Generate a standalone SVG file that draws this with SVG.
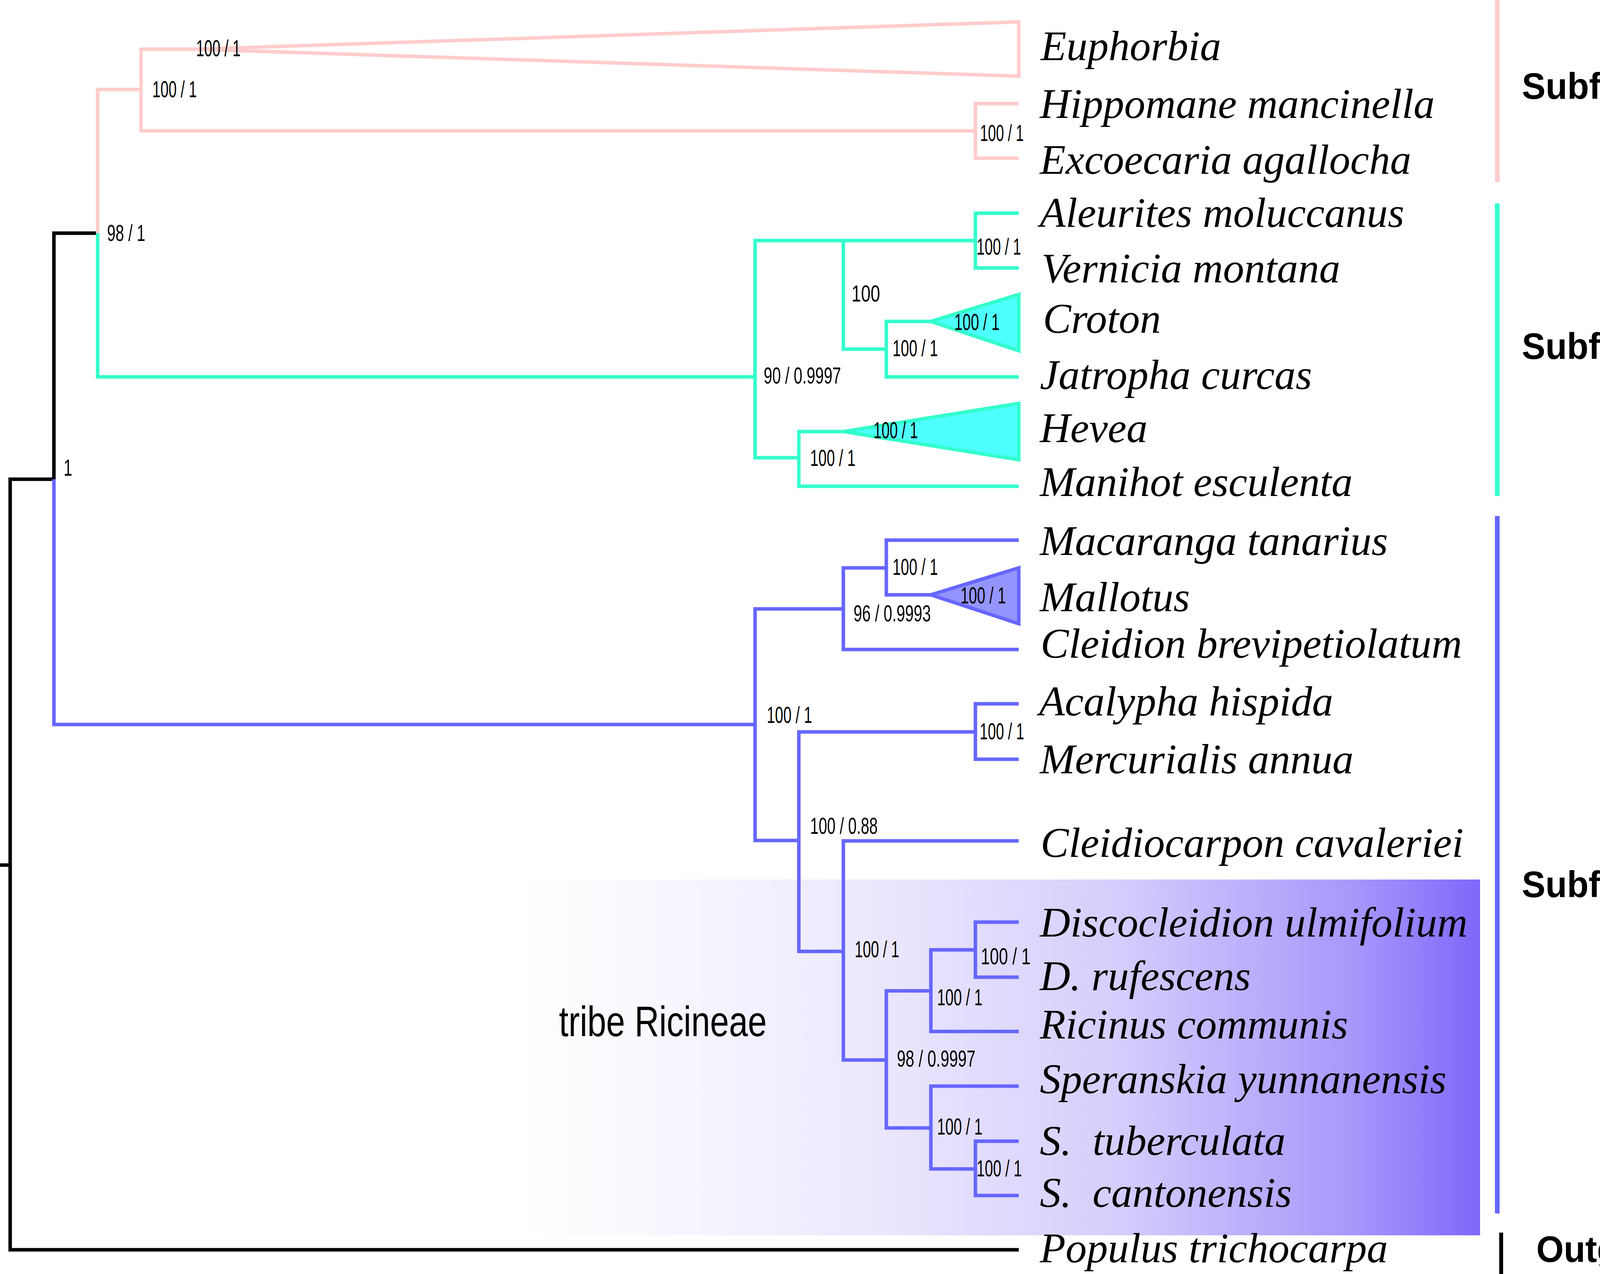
<svg xmlns="http://www.w3.org/2000/svg" width="4961" height="3262" viewBox="0 0 4961 3262">
<style>
.ln{fill:none;stroke-width:9;stroke-linejoin:miter;stroke-linecap:butt}
.k{stroke:#000}
.p{stroke:#ffcccc}
.t{stroke:#33ffcc}
.b{stroke:#6666ff}
.tx{font-family:"Liberation Serif","Times New Roman",serif;font-style:italic;font-size:108px;fill:#000}
.bs{font-family:"Liberation Sans",Arial,sans-serif;font-size:60px;fill:#000}
.sf{font-family:"Liberation Sans",Arial,sans-serif;font-weight:bold;font-size:94px;fill:#000}
.tr{font-family:"Liberation Sans",Arial,sans-serif;font-size:110px;fill:#000}
</style>
<defs>
<linearGradient id="ric" x1="0" y1="0" x2="1" y2="0">
<stop offset="0" stop-color="#ffffff"/>
<stop offset="0.13" stop-color="#f9f8fe"/>
<stop offset="0.36" stop-color="#ece9fd"/>
<stop offset="0.62" stop-color="#d6cefc"/>
<stop offset="0.87" stop-color="#a896fb"/>
<stop offset="1" stop-color="#8067fa"/>
</linearGradient>
</defs>
<rect width="4961" height="3262" fill="#ffffff"/>
<g id="tribe-ricineae">
<rect x="1328" y="2252" width="2461" height="911" fill="url(#ric)"/>
<text class="tr" x="1431" y="2653" textLength="532" lengthAdjust="spacingAndGlyphs">tribe Ricineae</text>
</g>
<g id="connectors">
<path class="ln k" d="M0,2215 H26"/>
<path class="ln k" d="M138,1227 H26 V3200 H2608"/>
<path class="ln k" d="M250,597 H138 V1227"/>
<path class="ln b" d="M138,1227 V1855 H1933"/>
<path class="ln p" d="M250,597 V229 H361"/>
<path class="ln t" d="M250,597 V965 H1933"/>
<path class="ln p" d="M500,126 H361 V335 H2497"/>
<path class="ln p" d="M2608,265 H2497 V405 H2608"/>
<polygon class="ln p" points="500,126 2608,56 2608,195"/>
<path class="ln t" d="M2159,616 H1933 V1172 H2045"/>
<path class="ln t" d="M2497,616 H2159 V894 H2269"/>
<path class="ln t" d="M2608,546 H2497 V686 H2608"/>
<path class="ln t" d="M2383,823 H2269 V965 H2608"/>
<polygon class="ln t" fill="#4dffff" style="fill:#4dffff" points="2383,823 2608,754 2608,898"/>
<path class="ln t" d="M2160,1105 H2045 V1245 H2608"/>
<polygon class="ln t" style="fill:#4dffff" points="2160,1105 2608,1033 2608,1177"/>
<path class="ln b" d="M2159,1559 H1933 V2152 H2045"/>
<path class="ln b" d="M2269,1454 H2159 V1663 H2608"/>
<path class="ln b" d="M2608,1383 H2269 V1523 H2383"/>
<polygon class="ln b" style="fill:#9494ff" points="2383,1523 2608,1454 2608,1597"/>
<path class="ln b" d="M2497,1874 H2045 V2436 H2159"/>
<path class="ln b" d="M2608,1802 H2497 V1944 H2608"/>
<path class="ln b" d="M2608,2153 H2159 V2714 H2269"/>
<path class="ln b" d="M2383,2537 H2269 V2888 H2383"/>
<path class="ln b" d="M2497,2432 H2383 V2641 H2608"/>
<path class="ln b" d="M2608,2361 H2497 V2502 H2608"/>
<path class="ln b" d="M2608,2781 H2383 V2993 H2497"/>
<path class="ln b" d="M2608,2922 H2497 V3061 H2608"/>
</g>
<g id="support-values">
<text class="bs" x="502" y="144" textLength="114" lengthAdjust="spacingAndGlyphs">100 / 1</text>
<text class="bs" x="390" y="249" textLength="114" lengthAdjust="spacingAndGlyphs">100 / 1</text>
<text class="bs" x="2509" y="361" textLength="112" lengthAdjust="spacingAndGlyphs">100 / 1</text>
<text class="bs" x="274" y="617" textLength="98" lengthAdjust="spacingAndGlyphs">98 / 1</text>
<text class="bs" x="163" y="1218" textLength="22" lengthAdjust="spacingAndGlyphs">1</text>
<text class="bs" x="2500" y="652" textLength="114" lengthAdjust="spacingAndGlyphs">100 / 1</text>
<text class="bs" x="2180" y="772" textLength="73" lengthAdjust="spacingAndGlyphs">100</text>
<text class="bs" x="2443" y="845" textLength="116" lengthAdjust="spacingAndGlyphs">100 / 1</text>
<text class="bs" x="2285" y="912" textLength="116" lengthAdjust="spacingAndGlyphs">100 / 1</text>
<text class="bs" x="1955" y="982" textLength="198" lengthAdjust="spacingAndGlyphs">90 / 0.9997</text>
<text class="bs" x="2236" y="1122" textLength="114" lengthAdjust="spacingAndGlyphs">100 / 1</text>
<text class="bs" x="2074" y="1193" textLength="116" lengthAdjust="spacingAndGlyphs">100 / 1</text>
<text class="bs" x="2285" y="1472" textLength="116" lengthAdjust="spacingAndGlyphs">100 / 1</text>
<text class="bs" x="2459" y="1545" textLength="116" lengthAdjust="spacingAndGlyphs">100 / 1</text>
<text class="bs" x="2185" y="1591" textLength="198" lengthAdjust="spacingAndGlyphs">96 / 0.9993</text>
<text class="bs" x="1963" y="1851" textLength="116" lengthAdjust="spacingAndGlyphs">100 / 1</text>
<text class="bs" x="2508" y="1893" textLength="114" lengthAdjust="spacingAndGlyphs">100 / 1</text>
<text class="bs" x="2074" y="2135" textLength="173" lengthAdjust="spacingAndGlyphs">100 / 0.88</text>
<text class="bs" x="2188" y="2451" textLength="114" lengthAdjust="spacingAndGlyphs">100 / 1</text>
<text class="bs" x="2511" y="2469" textLength="127" lengthAdjust="spacingAndGlyphs">100 / 1</text>
<text class="bs" x="2399" y="2574" textLength="116" lengthAdjust="spacingAndGlyphs">100 / 1</text>
<text class="bs" x="2296" y="2731" textLength="201" lengthAdjust="spacingAndGlyphs">98 / 0.9997</text>
<text class="bs" x="2399" y="2905" textLength="116" lengthAdjust="spacingAndGlyphs">100 / 1</text>
<text class="bs" x="2500" y="3012" textLength="116" lengthAdjust="spacingAndGlyphs">100 / 1</text>
</g>
<g id="taxa">
<g id="n-euphorbia"><text class="tx" x="2664" y="154">Euphorbia</text></g>
<g id="n-hippomane"><text class="tx" x="2662" y="302">Hippomane mancinella</text></g>
<g id="n-excoecaria"><text class="tx" x="2662" y="445">Excoecaria agallocha</text></g>
<g id="n-aleurites"><text class="tx" x="2662" y="581">Aleurites moluccanus</text></g>
<g id="n-vernicia"><text class="tx" x="2666" y="723">Vernicia montana</text></g>
<g id="n-croton"><text class="tx" x="2670" y="852">Croton</text></g>
<g id="n-jatropha"><text class="tx" x="2662" y="996">Jatropha curcas</text></g>
<g id="n-hevea"><text class="tx" x="2662" y="1132">Hevea</text></g>
<g id="n-manihot"><text class="tx" x="2662" y="1270">Manihot esculenta</text></g>
<g id="n-macaranga"><text class="tx" x="2662" y="1421">Macaranga tanarius</text></g>
<g id="n-mallotus"><text class="tx" x="2662" y="1565">Mallotus</text></g>
<g id="n-cleidion"><text class="tx" x="2664" y="1684">Cleidion brevipetiolatum</text></g>
<g id="n-acalypha"><text class="tx" x="2660" y="1832">Acalypha hispida</text></g>
<g id="n-mercurialis"><text class="tx" x="2662" y="1980">Mercurialis annua</text></g>
<g id="n-cleidiocarpon"><text class="tx" x="2664" y="2194">Cleidiocarpon cavaleriei</text></g>
<g id="n-discocleidion"><text class="tx" x="2662" y="2398">Discocleidion ulmifolium</text></g>
<g id="n-drufescens"><text class="tx" x="2662" y="2535">D. rufescens</text></g>
<g id="n-ricinus"><text class="tx" x="2662" y="2659">Ricinus communis</text></g>
<g id="n-speranskia"><text class="tx" x="2662" y="2799">Speranskia yunnanensis</text></g>
<g id="n-stuberculata"><text class="tx" x="2662" y="2957" xml:space="preserve">S.  tuberculata</text></g>
<g id="n-scantonensis"><text class="tx" x="2662" y="3090" xml:space="preserve">S.  cantonensis</text></g>
<g id="n-populus"><text class="tx" x="2662" y="3232">Populus trichocarpa</text></g>
</g>
<g id="subfamilies">
<g id="sf-euphorbioideae">
<line x1="3833" y1="0" x2="3833" y2="466" stroke="#ffcccc" stroke-width="12"/>
<text class="sf" x="3896" y="253" textLength="1072" lengthAdjust="spacingAndGlyphs">Subfam. Euphorbioideae</text>
</g>
<g id="sf-crotonoideae">
<line x1="3833" y1="521" x2="3833" y2="1270" stroke="#33ffcc" stroke-width="12"/>
<text class="sf" x="3896" y="919" textLength="963" lengthAdjust="spacingAndGlyphs">Subfam. Crotonoideae</text>
</g>
<g id="sf-acalyphoideae">
<line x1="3833" y1="1321" x2="3833" y2="3107" stroke="#6666ff" stroke-width="12"/>
<text class="sf" x="3896" y="2297" textLength="1017" lengthAdjust="spacingAndGlyphs">Subfam. Acalyphoideae</text>
</g>
<g id="sf-outgroup">
<line x1="3843" y1="3156" x2="3843" y2="3262" stroke="#000" stroke-width="10"/>
<text class="sf" x="3933" y="3231" textLength="411" lengthAdjust="spacingAndGlyphs">Outgroup</text>
</g>
</g>
</svg>
